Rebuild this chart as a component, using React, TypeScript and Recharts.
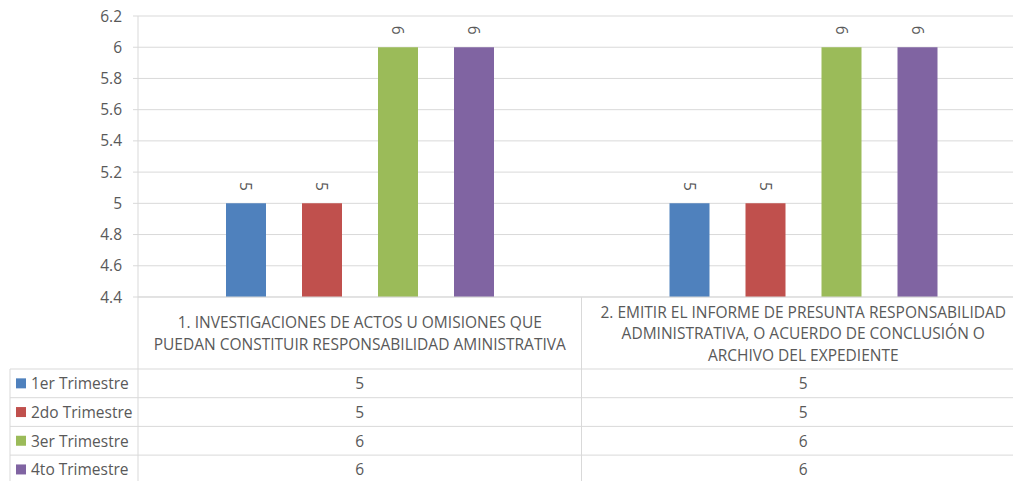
import React from "react";
import { BarChart, Bar, XAxis, YAxis, CartesianGrid, LabelList } from "recharts";

const categories = [
  "1. INVESTIGACIONES DE ACTOS U OMISIONES QUE PUEDAN CONSTITUIR RESPONSABILIDAD AMINISTRATIVA",
  "2. EMITIR EL INFORME DE PRESUNTA RESPONSABILIDAD ADMINISTRATIVA, O ACUERDO DE CONCLUSIÓN O ARCHIVO DEL EXPEDIENTE",
];
const categoryLines = [
  ["1. INVESTIGACIONES DE ACTOS U OMISIONES QUE", "PUEDAN CONSTITUIR RESPONSABILIDAD AMINISTRATIVA"],
  ["2. EMITIR EL INFORME DE PRESUNTA RESPONSABILIDAD", "ADMINISTRATIVA, O ACUERDO DE CONCLUSIÓN O", "ARCHIVO DEL EXPEDIENTE"],
];
const seriesNames = ["1er Trimestre", "2do Trimestre", "3er Trimestre", "4to Trimestre"];
const trimestre1 = [5, 5];
const trimestre2 = [5, 5];
const trimestre3 = [6, 6];
const trimestre4 = [6, 6];
const seriesValues = [trimestre1, trimestre2, trimestre3, trimestre4];
const yTicks = [4.4, 4.6, 4.8, 5, 5.2, 5.4, 5.6, 5.8, 6, 6.2];

const COLORS = ["#4F81BD", "#C0504D", "#9BBB59", "#8064A2"];
const KEYS = ["s1", "s2", "s3", "s4"];
const TEXT = "#595959";
const GRID = "#D9D9D9";
const FONT = "'Open Sans', sans-serif";
const FS = 15.5;

const data = categories.map((c, i) => {
  const row: any = { name: c, idx: i };
  KEYS.forEach((k, s) => (row[k] = seriesValues[s][i]));
  return row;
});

const TABLE_LEFT = 10;
const HEADER_H = 72;
const ROW_H = 28.7;
const HEADER_LINE = 21.5;

const TableTick = (props: any) => {
  const { x, y, payload, index } = props;
  const half = payload && payload.offset ? payload.offset : 221.75;
  const left = x - half;
  const right = x + half;
  const lines = categoryLines[index] || [];
  const top = y;
  const rowsTop = top + HEADER_H;
  const bottom = rowsTop + ROW_H * seriesNames.length + 10;
  const headerCenter = top + 36;
  const els: any[] = [];
  lines.forEach((ln, i) => {
    els.push(
      <text
        key={"h" + i}
        x={x}
        y={headerCenter + (i - (lines.length - 1) / 2) * HEADER_LINE}
        textAnchor="middle"
        dominantBaseline="central"
        fill={TEXT}
        fontSize={FS}
        fontFamily={FONT}
      >
        {ln}
      </text>
    );
  });
  els.push(<line key="vr" x1={right} x2={right} y1={top} y2={bottom} stroke={GRID} />);
  if (index === 0) {
    els.push(<line key="vl" x1={left} x2={left} y1={top} y2={bottom} stroke={GRID} />);
    els.push(<line key="vt" x1={TABLE_LEFT} x2={TABLE_LEFT} y1={rowsTop} y2={bottom} stroke={GRID} />);
  }
  seriesNames.forEach((sn, s) => {
    const rt = rowsTop + s * ROW_H;
    const rc = rt + ROW_H / 2;
    els.push(
      <line key={"hl" + s} x1={index === 0 ? TABLE_LEFT : left} x2={right} y1={rt} y2={rt} stroke={GRID} />
    );
    els.push(
      <text
        key={"v" + s}
        x={x}
        y={rc}
        textAnchor="middle"
        dominantBaseline="central"
        fill={TEXT}
        fontSize={FS}
        fontFamily={FONT}
      >
        {seriesValues[s][index]}
      </text>
    );
    if (index === 0) {
      els.push(<rect key={"k" + s} x={TABLE_LEFT + 6} y={rc - 5} width={10} height={10} fill={COLORS[s]} />);
      els.push(
        <text
          key={"n" + s}
          x={TABLE_LEFT + 21}
          y={rc}
          dominantBaseline="central"
          fill={TEXT}
          fontSize={FS}
          fontFamily={FONT}
        >
          {sn}
        </text>
      );
    }
  });
  return <g>{els}</g>;
};

const RotLabel = (props: any) => {
  const { x, y, width, value } = props;
  const cx = x + width / 2;
  const ty = y - 17;
  return (
    <text
      x={cx}
      y={ty}
      transform={`rotate(90 ${cx} ${ty})`}
      textAnchor="middle"
      dominantBaseline="central"
      fill={TEXT}
      fontSize={FS}
      fontFamily={FONT}
    >
      {value}
    </text>
  );
};

export default function App() {
  return (
    <div style={{ position: "absolute", left: 0, top: 0, width: 1013, height: 481, overflow: "hidden", background: "#fff" }}>
      <BarChart
        width={1030}
        height={490}
        data={data}
        margin={{ top: 16, right: 5, left: 0, bottom: 0 }}
        barSize={40}
        barGap={36}
      >
        <CartesianGrid horizontal vertical={false} stroke={GRID} />
        <XAxis
          dataKey="name"
          height={193}
          interval={0}
          tickSize={0}
          tickMargin={0}
          tickLine={false}
          axisLine={{ stroke: GRID }}
          tick={<TableTick />}
        />
        <YAxis
          width={138}
          domain={[4.4, 6.2]}
          ticks={yTicks}
          allowDataOverflow
          tickSize={5}
          tickMargin={11}
          axisLine={{ stroke: GRID }}
          tickLine={{ stroke: GRID }}
          tick={{ fill: TEXT, fontSize: FS, fontFamily: FONT }}
          tickFormatter={(v: number) => String(Number(v.toFixed(1)))}
        />
        {KEYS.map((k, s) => (
          <Bar key={k} dataKey={k} name={seriesNames[s]} fill={COLORS[s]} isAnimationActive={false}>
            <LabelList dataKey={k} content={<RotLabel />} />
          </Bar>
        ))}
      </BarChart>
    </div>
  );
}
